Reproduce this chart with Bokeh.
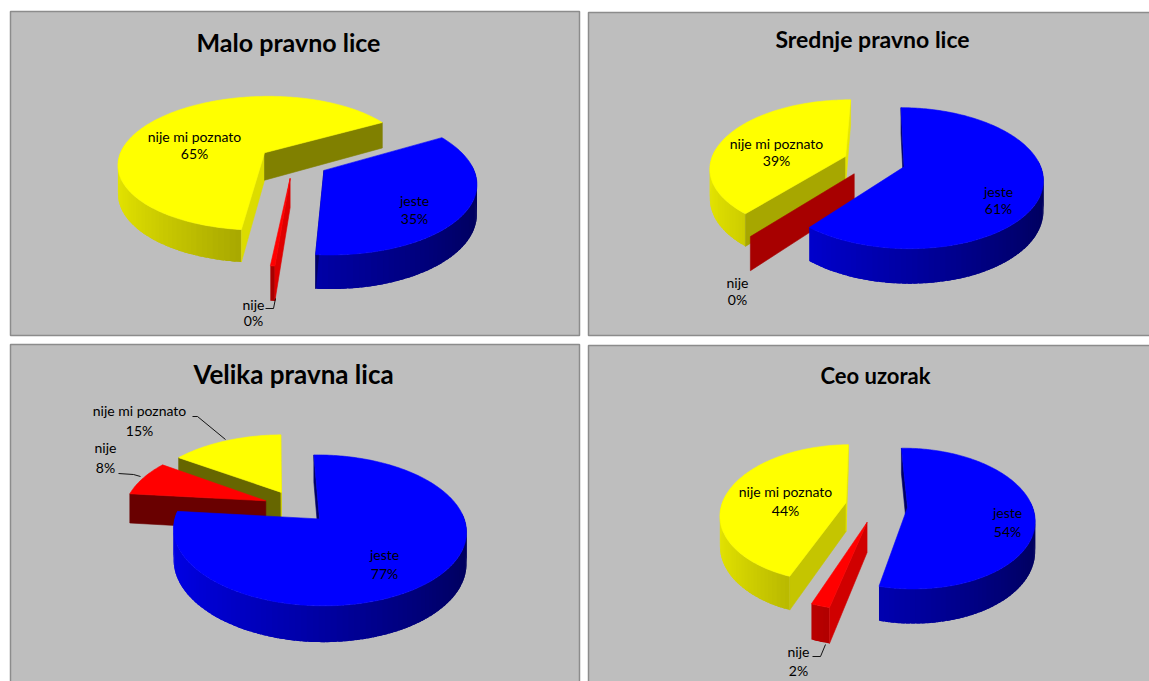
import math
import numpy as np
from bokeh.core.properties import value
from bokeh.embed import file_html
from bokeh.layouts import column, row
from bokeh.models import ColumnDataSource, Range1d
from bokeh.plotting import figure
from bokeh.resources import INLINE

# ---- data -----------------------------------------------------------
categories = ["jeste", "nije", "nije mi poznato"]
malo_values = [34.6, 0.4, 65.0]
srednje_values = [60.8, 0.0, 39.2]
velika_values = [77.0, 8.0, 15.0]
ceo_values = [54.0, 2.0, 44.0]
titles = ["Malo pravno lice", "Srednje pravno lice", "Velika pravna lica", "Ceo uzorak"]

# ---- styles and layout -----------------------------------------------
BASE = {"jeste": (0, 0, 255), "nije": (255, 0, 0), "nije mi poznato": (255, 255, 0)}
BG = "#bebebe"
BORDER = "#8c8c8c"
FONT = "Lato"

LAYOUTS = [
    dict(frame=(0, 584, 0, 340), rect=(10, 579, 11, 335), width=584, height=340,
         cx=293, cy=161, rx=147, ry=68, k=0.159, depth=28, start=60, explode=0.24,
         title=(288, 41, 25),
         labels={"jeste": (414, 200, 218), "nije": (253, 304, 320), "nije mi poznato": (194, 136, 153)},
         leaders=[([265, 273, 275], [308, 308, 298])]),
    dict(frame=(584, 1149, 0, 340), rect=(588, 1170, 12, 335), width=565, height=340,
         cx=874, cy=161, rx=135, ry=67, k=0.159, depth=29, start=0.5, explode=0.23,
         title=(872, 38, 23),
         labels={"jeste": (998, 191, 208), "nije": (737, 282, 299), "nije mi poznato": (776, 143, 160)},
         leaders=[]),
    dict(frame=(0, 584, 340, 681), rect=(10, 579, 344, 700), width=584, height=341,
         cx=296, cy=506, rx=141, ry=70, k=0.148, depth=30, start=358.8, explode=0.235,
         title=(293, 373, 26),
         labels={"jeste": (384, 554, 573), "nije": (105, 447, 467), "nije mi poznato": (139, 410, 430)},
         leaders=[([192, 197, 225], [416, 416, 439]), ([118, 133, 140], [473, 474, 476])]),
    dict(frame=(584, 1149, 340, 681), rect=(588, 1170, 345, 700), width=565, height=341,
         cx=876, cy=505, rx=124.5, ry=68, k=0.159, depth=29, start=359, explode=0.25,
         title=(875, 375, 22),
         labels={"jeste": (1007, 512, 531), "nije": (798, 651, 670), "nije mi poznato": (785, 491, 510)},
         leaders=[([812, 820, 825], [656, 656, 644])]),
]


def shade(rgb, f):
    return "#%02x%02x%02x" % tuple(int(round(c * f)) for c in rgb)


def wall_factor(u):
    return 0.63 - 0.27 * u


def face_factor(phi):
    phi = phi % 360
    return float(np.interp(phi, [90, 130, 150, 190, 220], [0.9, 0.65, 0.5, 0.4, 0.4]))


def project(cfg, X, Y, Z=0.0):
    w = 1 + cfg["k"] * Y
    return cfg["cx"] + cfg["rx"] * X / w, cfg["cy"] - cfg["ry"] * Y / w + cfg["depth"] * Z / w


def slice_patches(cfg, a0, a1, rgb):
    xs, ys, colors, alphas = [], [], [], []
    mid = math.radians((a0 + a1) / 2)
    ex, ey = cfg["explode"] * math.sin(mid), cfg["explode"] * math.cos(mid)

    def rim(theta, z=0.0):
        t = math.radians(theta)
        return project(cfg, ex + math.sin(t), ey + math.cos(t), z)

    def add(points, color, alpha=1.0):
        xs.append([p[0] for p in points])
        ys.append([p[1] for p in points])
        colors.append(color)
        alphas.append(alpha)

    # outer wall: overlapping strips that carry the horizontal shading
    n = max(1, int((a1 - a0) / 2))
    grid = np.linspace(a0, a1, n + 1)
    for t0, t1 in zip(grid[:-1], grid[1:]):
        tm = math.radians((t0 + t1) / 2)
        if math.cos(tm) < 0.1:
            t2 = min(t1 + 1.5, a1)
            pts = [rim(t) for t in (t0, t1, t2)] + [rim(t, 1) for t in (t2, t1, t0)]
            add(pts, shade(rgb, wall_factor(math.sin(tm))), 0.0)

    # radial cut faces
    apex_top = project(cfg, ex, ey)
    apex_bot = project(cfg, ex, ey, 1)
    for theta, phi in ((a0, a0 - 90), (a1, a1 + 90)):
        if math.cos(math.radians(phi)) <= 0.1:
            add([apex_top, rim(theta), rim(theta, 1), apex_bot], shade(rgb, face_factor(phi)))

    # top surface
    if a1 > a0:
        add([apex_top] + [rim(t) for t in np.linspace(a0, a1, max(2, int(a1 - a0) + 1))], shade(rgb, 1.0))
    return xs, ys, colors, alphas


def make_panel(cfg, values, title):
    x0, x1, y0, y1 = cfg["frame"]
    p = figure(width=cfg["width"], height=cfg["height"],
               x_range=Range1d(x0, x1), y_range=Range1d(y1, y0),
               x_axis_location=None, y_axis_location=None,
               toolbar_location=None, output_backend="svg",
               min_border=0, outline_line_color=None,
               background_fill_color="white", border_fill_color="white")
    p.grid.visible = False

    rl, rr, rt, rb = cfg["rect"]
    p.quad(left=[rl], right=[rr], top=[rt], bottom=[rb],
           fill_color=BG, line_color=BORDER, line_width=1.5)

    # slices go clockwise from the start angle: jeste, nije, nije mi poznato
    spans, angle = {}, cfg["start"]
    for cat, val in zip(categories, values):
        spans[cat] = (angle, angle + val * 3.6)
        angle += val * 3.6

    xs, ys, colors, alphas = [], [], [], []
    for cat in reversed(categories):
        a, b, c, d = slice_patches(cfg, *spans[cat], BASE[cat])
        xs += a
        ys += b
        colors += c
        alphas += d
    p.patches("xs", "ys", source=ColumnDataSource(dict(xs=xs, ys=ys, c=colors, la=alphas)),
              fill_color="c", line_color="c", line_alpha="la", line_width=0.6)

    for lx, ly in cfg["leaders"]:
        p.line(lx, ly, line_color="black", line_width=0.9)

    names, pcts, lxs, y1s, y2s = [], [], [], [], []
    for cat, val in zip(categories, values):
        lx, ly1, ly2 = cfg["labels"][cat]
        names.append(cat)
        pcts.append(f"{round(val)}%")
        lxs.append(lx)
        y1s.append(ly1)
        y2s.append(ly2)
    for ty, txt in ((y1s, names), (y2s, pcts)):
        p.text(lxs, ty, text=txt, text_font=value(FONT), text_font_size="14px",
               text_color="black", text_align="center", text_baseline="middle")

    tx, ty, ts = cfg["title"]
    p.text([tx], [ty], text=[title], text_font=value(FONT), text_font_size=f"{ts}px",
           text_font_style="bold", text_color="black",
           text_align="center", text_baseline="middle")
    return p


all_values = [malo_values, srednje_values, velika_values, ceo_values]
panels = [make_panel(c, v, t) for c, v, t in zip(LAYOUTS, all_values, titles)]
page = row(column(panels[0], panels[2], spacing=0), column(panels[1], panels[3], spacing=0), spacing=0)
open("out.html", "w").write(file_html(page, INLINE))
